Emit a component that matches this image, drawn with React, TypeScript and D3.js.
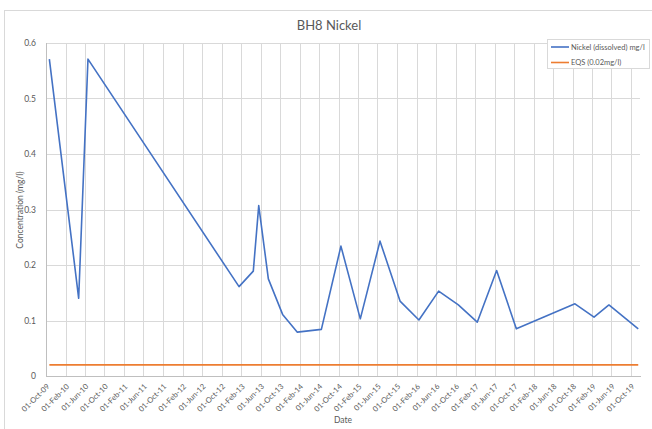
import React from "react";
import * as d3 from "d3";

const sampleDates = [
  "2009-10-22", "2010-04-23", "2010-06-20", "2013-01-18", "2013-04-17", "2013-05-21",
  "2013-07-20", "2013-10-17", "2014-01-17", "2014-06-16", "2014-10-16", "2015-02-14",
  "2015-06-17", "2015-10-20", "2016-02-15", "2016-06-17", "2016-10-18", "2017-02-13",
  "2017-06-14", "2017-10-15", "2018-10-16", "2019-02-12", "2019-05-16", "2019-11-15",
];
const nickelValues = [
  0.571, 0.14, 0.571, 0.161, 0.189, 0.307,
  0.175, 0.111, 0.079, 0.084, 0.234, 0.103,
  0.243, 0.135, 0.101, 0.153, 0.128, 0.097,
  0.19, 0.085, 0.13, 0.106, 0.128, 0.085,
];
const eqsValue = 0.02;
const yTicks = [0, 0.1, 0.2, 0.3, 0.4, 0.5, 0.6];
const xDomain = ["2009-10-01", "2019-11-26"];
const tickStart = "2009-10-01";
const tickEnd = "2019-11-01";
const seriesNames = ["Nickel (dissolved) mg/l", "EQS (0.02mg/l)"];
const title = "BH8 Nickel";
const xTitle = "Date";
const yTitle = "Concentration (mg/l)";

const parse = d3.timeParse("%Y-%m-%d");
const fmt = d3.timeFormat("%d-%b-%y");

export default function App() {
  const W = 652, H = 429;
  const left = 46, right = 640, top = 43, bottom = 376;
  const font = "Lato, 'Open Sans', sans-serif";
  const textColor = "#595959";

  const x = d3.scaleTime()
    .domain(xDomain.map((d) => parse(d) as Date))
    .range([left, right]);
  const y = d3.scaleLinear().domain([0, 0.6]).range([bottom, top]);

  const data = sampleDates.map((d, i) => ({ date: parse(d) as Date, v: nickelValues[i] }));
  const xTicks = d3.timeMonth.range(parse(tickStart) as Date, parse(tickEnd) as Date, 4);

  const line = d3.line<{ date: Date; v: number }>().x((d) => x(d.date)).y((d) => y(d.v));
  const eqsData = [data[0], data[data.length - 1]].map((d) => ({ date: d.date, v: eqsValue }));

  const colors = ["#4472C4", "#ED7D31"];

  return (
    <svg width={W} height={H} style={{ position: "absolute", left: 0, top: 0, background: "#fff" }} fontFamily={font}>
      <rect x={0} y={0} width={W} height={H} fill="#fff" />
      <rect x={4.5} y={10.5} width={700} height={500} fill="#fff" stroke="#d9d9d9" />
      <text x={329} y={30} textAnchor="middle" fontSize={13} fill={textColor}>{title}</text>

      {yTicks.map((t) => (
        <g key={"y" + t}>
          <line x1={left} x2={right} y1={Math.round(y(t)) + 0.5} y2={Math.round(y(t)) + 0.5} stroke="#d9d9d9" strokeWidth={1} />
          <text x={36} y={y(t) + 3} textAnchor="end" fontSize={8.5} fill={textColor}>{t === 0 ? "0" : t.toFixed(1)}</text>
        </g>
      ))}
      {xTicks.map((t, i) => (
        <g key={"x" + i}>
          {i > 0 && (
            <line x1={Math.round(x(t)) + 0.5} x2={Math.round(x(t)) + 0.5} y1={top} y2={bottom} stroke="#d9d9d9" strokeWidth={1} />
          )}
          <text
            transform={`translate(${x(t) + 4},${bottom + 11}) rotate(-45)`}
            textAnchor="end"
            fontSize={7.6}
            fill={textColor}
          >
            {fmt(t)}
          </text>
        </g>
      ))}
      <line x1={left + 0.5} x2={left + 0.5} y1={top} y2={bottom} stroke="#bfbfbf" />
      <line x1={left} x2={right + 1} y1={bottom + 0.5} y2={bottom + 0.5} stroke="#bfbfbf" />

      <path d={line(eqsData) || ""} fill="none" stroke={colors[1]} strokeWidth={1.6} />
      <path d={line(data) || ""} fill="none" stroke={colors[0]} strokeWidth={1.6} strokeLinejoin="round" />

      <text x={343} y={423} textAnchor="middle" fontSize={8.5} fill={textColor}>{xTitle}</text>
      <text transform={`translate(23,210) rotate(-90)`} textAnchor="middle" fontSize={8.5} fill={textColor}>{yTitle}</text>

      <rect x={547.5} y={39.5} width={102} height={29} fill="#fff" stroke="#d9d9d9" />
      {seriesNames.map((n, i) => (
        <g key={n}>
          <line x1={551} x2={569} y1={47 + i * 15.5} y2={47 + i * 15.5} stroke={colors[i]} strokeWidth={1.6} />
          <text x={571} y={49.5 + i * 15.5} fontSize={7.5} fill={textColor}>{n}</text>
        </g>
      ))}
    </svg>
  );
}
